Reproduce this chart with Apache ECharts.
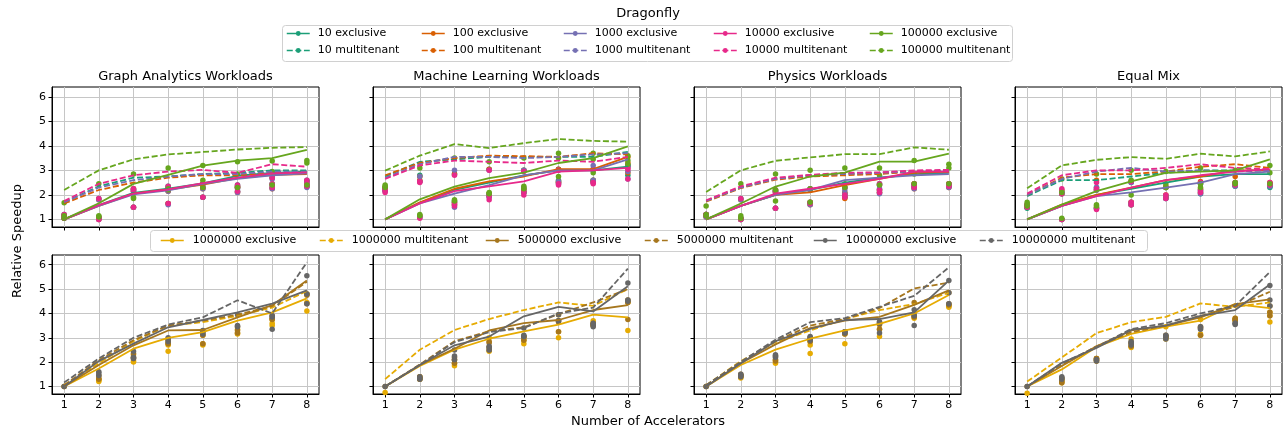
<!DOCTYPE html>
<html><head><meta charset="utf-8">
<script src="https://cdn.jsdelivr.net/npm/echarts@6/dist/echarts.min.js"></script>
<style>html,body{margin:0;padding:0;background:#fff}#c{width:1285px;height:432px}</style>
</head><body><div id="c"></div><script>
// ---------- categories / ticks ----------
const xValues = [1, 2, 3, 4, 5, 6, 7, 8];
const yTicks = [1, 2, 3, 4, 5, 6];
const panelTitles = ['Graph Analytics Workloads', 'Machine Learning Workloads', 'Physics Workloads', 'Equal Mix'];
const topSizes = ['10', '100', '1000', '10000', '100000'];
const bottomSizes = ['1000000', '5000000', '10000000'];
const sizeColors = {
  '10': '#1b9e77', '100': '#d95f02', '1000': '#7570b3', '10000': '#e7298a', '100000': '#66a61e',
  '1000000': '#e6ab02', '5000000': '#a6761d', '10000000': '#666666'
};

// ---------- Graph Analytics (top row) ----------
const graphTopExclusive = {
  '10':     [1, 1.58, 2.08, 2.25, 2.47, 2.78, 2.90, 2.95],
  '100':    [1, 1.55, 2.05, 2.22, 2.42, 2.68, 2.82, 2.85],
  '1000':   [1, 1.55, 2.02, 2.18, 2.45, 2.65, 2.80, 2.88],
  '10000':  [1, 1.58, 2.05, 2.22, 2.48, 2.70, 2.88, 2.92],
  '100000': [1, 1.66, 2.45, 2.82, 3.19, 3.40, 3.50, 3.84]
};
const graphTopMultitenant = {
  '10':     [1.70, 2.35, 2.70, 2.75, 2.85, 2.90, 3.00, 3.00],
  '100':    [1.65, 2.20, 2.50, 2.70, 2.80, 2.80, 2.90, 2.90],
  '1000':   [1.70, 2.30, 2.60, 2.75, 2.85, 2.85, 2.95, 2.95],
  '10000':  [1.75, 2.45, 2.80, 2.95, 3.02, 2.90, 3.25, 3.15],
  '100000': [2.20, 3.00, 3.45, 3.65, 3.75, 3.85, 3.92, 3.95]
};
const graphTopDots = {
  '10':     [[1.05,1.10,1.20],[1.05,1.10,1.85],[1.50,2.20,2.25],[1.65,2.20,2.35],[1.90,2.30,2.45],[2.15,2.30,2.40],[2.30,2.45,2.70],[2.35,2.45,2.60]],
  '100':    [[1.05,1.10,1.15],[1.00,1.10,1.80],[1.50,2.15,2.25],[1.65,2.15,2.30],[1.90,2.25,2.45],[2.10,2.30,2.35],[2.25,2.40,2.70],[2.35,2.40,2.55]],
  '1000':   [[1.05,1.10,1.15],[1.00,1.05,1.80],[1.50,2.15,2.20],[1.60,2.15,2.30],[1.90,2.25,2.40],[2.10,2.25,2.35],[2.25,2.40,2.65],[2.30,2.40,2.55]],
  '10000':  [[1.05,1.15,1.20],[1.00,1.05,1.85],[1.50,2.20,2.25],[1.65,2.20,2.35],[1.90,2.30,2.45],[2.15,2.30,2.40],[2.30,2.45,2.70],[2.35,2.45,2.60]],
  '100000': [[1.05,1.15,1.68],[1.10,1.15,2.45],[1.85,1.90,2.85],[2.20,2.25,3.10],[2.30,2.60,3.20],[2.30,2.85,3.35],[2.40,2.95,3.38],[2.40,3.30,3.40]]
};

// ---------- Machine Learning (top row) ----------
const mlTopExclusive = {
  '10':     [1, 1.68, 2.20, 2.50, 2.80, 3.00, 3.00, 3.15],
  '100':    [1, 1.70, 2.25, 2.55, 2.75, 3.05, 3.05, 3.55],
  '1000':   [1, 1.65, 2.05, 2.40, 2.80, 3.00, 3.00, 3.45],
  '10000':  [1, 1.65, 2.15, 2.35, 2.55, 2.95, 3.00, 3.10],
  '100000': [1, 1.82, 2.34, 2.68, 2.91, 3.30, 3.50, 3.98]
};
const mlTopMultitenant = {
  '10':     [2.75, 3.35, 3.45, 3.55, 3.55, 3.55, 3.55, 3.75],
  '100':    [2.80, 3.30, 3.50, 3.60, 3.58, 3.55, 3.70, 3.65],
  '1000':   [2.70, 3.25, 3.55, 3.55, 3.50, 3.55, 3.65, 3.70],
  '10000':  [2.65, 3.20, 3.40, 3.35, 3.30, 3.40, 3.35, 3.55],
  '100000': [2.99, 3.60, 4.07, 3.91, 4.11, 4.28, 4.20, 4.17]
};
const mlTopDots = {
  '10':     [[2.20,2.25,2.30],[1.10,2.55,2.80],[1.60,1.75,2.85],[1.95,2.05,3.05],[2.10,2.20,3.00],[2.50,2.60,3.05],[2.55,2.60,3.05],[2.80,3.15,3.20]],
  '100':    [[2.20,2.25,2.30],[1.15,2.60,2.75],[1.60,1.70,2.85],[1.95,2.05,3.05],[2.10,2.25,3.00],[2.50,2.55,3.05],[2.55,2.60,3.05],[2.90,3.30,3.55]],
  '1000':   [[2.15,2.20,2.25],[1.10,2.55,2.75],[1.50,1.70,3.00],[1.90,2.00,3.00],[2.10,2.30,3.00],[2.45,2.55,3.00],[2.50,2.60,3.20],[2.65,2.95,3.20]],
  '10000':  [[2.10,2.20,2.25],[1.05,2.50,2.55],[1.55,1.65,2.80],[1.80,1.95,3.00],[2.00,2.15,2.95],[2.40,2.45,3.00],[2.45,2.50,3.00],[2.65,3.05,3.10]],
  '100000': [[2.30,2.35,2.40],[1.15,1.20,3.10],[1.75,1.80,3.50],[2.05,2.10,3.35],[2.25,2.35,3.50],[2.75,3.50,3.70],[2.90,3.45,3.70],[3.25,3.40,3.60]]
};

// ---------- Physics (top row) ----------
const physTopExclusive = {
  '10':     [1, 1.55, 2.00, 2.20, 2.50, 2.70, 2.85, 2.90],
  '100':    [1, 1.55, 2.00, 2.10, 2.40, 2.65, 2.90, 2.95],
  '1000':   [1, 1.55, 2.00, 2.20, 2.60, 2.70, 2.80, 2.85],
  '10000':  [1, 1.55, 2.05, 2.25, 2.45, 2.65, 2.95, 2.95],
  '100000': [1, 1.65, 2.34, 2.75, 2.91, 3.36, 3.36, 3.68]
};
const physTopMultitenant = {
  '10':     [1.75, 2.30, 2.65, 2.80, 2.85, 2.90, 2.95, 3.00],
  '100':    [1.72, 2.28, 2.62, 2.75, 2.80, 2.85, 2.95, 2.95],
  '1000':   [1.75, 2.30, 2.65, 2.80, 2.85, 2.90, 2.95, 3.00],
  '10000':  [1.78, 2.35, 2.70, 2.82, 2.90, 2.92, 3.00, 3.02],
  '100000': [2.12, 3.00, 3.39, 3.53, 3.66, 3.66, 3.94, 3.84]
};
const physTopDots = {
  '10':     [[1.15,1.20,1.20],[1.00,1.05,1.85],[1.45,2.15,2.20],[1.65,1.70,2.25],[1.90,2.05,2.30],[2.10,2.20,2.45],[2.30,2.40,2.45],[2.35,2.40,2.45]],
  '100':    [[1.10,1.15,1.20],[1.00,1.05,1.80],[1.45,2.10,2.20],[1.60,1.70,2.20],[1.85,1.95,2.10],[2.10,2.20,2.40],[2.25,2.35,2.45],[2.30,2.40,2.45]],
  '1000':   [[1.10,1.15,1.20],[1.00,1.05,1.80],[1.45,2.10,2.15],[1.60,1.65,2.20],[1.95,2.05,2.20],[2.05,2.25,2.40],[2.25,2.35,2.40],[2.30,2.35,2.40]],
  '10000':  [[1.15,1.20,1.20],[1.00,1.05,1.85],[1.45,2.15,2.20],[1.65,1.70,2.25],[1.90,2.00,2.30],[2.10,2.20,2.45],[2.30,2.40,2.45],[2.35,2.40,2.45]],
  '100000': [[1.15,1.20,1.55],[1.05,1.15,2.45],[1.75,2.20,2.85],[1.70,2.25,3.00],[2.30,2.45,3.10],[2.40,2.80,3.10],[2.45,2.85,3.40],[2.45,3.10,3.25]]
};

// ---------- Equal Mix (top row) ----------
const mixTopExclusive = {
  '10':     [1, 1.55, 2.00, 2.25, 2.50, 2.75, 2.85, 2.85],
  '100':    [1, 1.60, 2.00, 2.30, 2.60, 2.75, 3.00, 3.00],
  '1000':   [1, 1.55, 1.95, 2.10, 2.30, 2.50, 2.85, 2.95],
  '10000':  [1, 1.55, 1.95, 2.30, 2.60, 2.80, 2.95, 3.05],
  '100000': [1, 1.60, 2.15, 2.55, 2.90, 2.95, 3.00, 3.45]
};
const mixTopMultitenant = {
  '10':     [1.95, 2.60, 2.60, 2.75, 2.90, 3.00, 3.00, 3.00],
  '100':    [2.00, 2.70, 2.85, 2.85, 2.95, 3.15, 3.25, 3.10],
  '1000':   [2.00, 2.65, 2.95, 3.10, 2.95, 3.00, 2.95, 3.00],
  '10000':  [2.05, 2.80, 3.00, 3.00, 3.10, 3.25, 3.10, 3.05],
  '100000': [2.27, 3.20, 3.43, 3.54, 3.47, 3.68, 3.57, 3.77]
};
const mixTopDots = {
  '10':     [[1.45,1.50,1.55],[1.00,2.05,2.15],[1.45,2.20,2.30],[1.60,1.70,2.50],[1.85,1.95,2.30],[2.05,2.20,2.45],[2.35,2.40,2.45],[2.30,2.35,2.40]],
  '100':    [[1.50,1.55,1.60],[1.00,2.05,2.20],[1.50,2.20,2.60],[1.60,1.70,2.55],[1.90,2.00,2.35],[2.10,2.25,2.55],[2.40,2.50,2.75],[2.40,2.45,2.50]],
  '1000':   [[1.50,1.55,1.60],[1.00,2.05,2.10],[1.45,2.20,2.30],[1.60,1.65,2.50],[1.85,1.95,2.30],[2.05,2.15,2.45],[2.35,2.40,2.50],[2.35,2.40,2.45]],
  '10000':  [[1.50,1.55,1.60],[1.00,2.05,2.25],[1.40,2.25,2.50],[1.60,1.70,2.55],[1.85,2.00,2.30],[2.10,2.20,2.50],[2.40,2.45,2.50],[2.40,2.45,2.50]],
  '100000': [[1.55,1.60,1.70],[1.05,2.10,2.65],[1.55,1.60,2.85],[2.00,2.60,3.00],[2.30,2.45,2.95],[2.30,2.45,3.10],[2.45,2.50,3.00],[2.45,2.90,3.20]]
};

// ---------- bottom row ----------
const graphBottomExclusive = {
  '1000000':  [1, 1.74, 2.55, 3.00, 3.23, 3.70, 4.04, 4.62],
  '5000000':  [1, 1.88, 2.69, 3.30, 3.32, 3.84, 4.34, 5.35],
  '10000000': [1, 2.04, 2.76, 3.43, 3.73, 4.04, 4.40, 4.95]
};
const graphBottomMultitenant = {
  '1000000':  [1.05, 1.95, 2.86, 3.50, 3.64, 3.90, 4.24, 4.92],
  '5000000':  [1.05, 2.08, 2.90, 3.50, 3.70, 3.95, 4.30, 5.30],
  '10000000': [1.16, 2.15, 3.00, 3.54, 3.84, 4.54, 4.00, 6.10]
};
const graphBottomDots = {
  '1000000':  [[1.00],[1.20,1.25,1.30],[2.00,2.05,2.30],[2.45,2.70,2.75],[2.70,2.75,3.10],[3.15,3.20,3.35],[3.50,3.60,3.75],[4.10,4.45,4.80]],
  '5000000':  [[1.00],[1.30,1.35,1.45],[2.15,2.20,2.35],[2.75,2.80,2.90],[2.75,3.10,3.20],[3.20,3.30,3.45],[3.75,3.80,3.90],[4.40,4.75,4.80]],
  '10000000': [[1.00],[1.45,1.55,1.60],[2.15,2.20,2.45],[2.85,2.95,3.00],[3.15,3.25,3.30],[3.45,3.50,3.95],[3.35,3.85,3.90],[4.40,4.80,5.55]]
};
const mlBottomExclusive = {
  '1000000':  [1, 1.84, 2.51, 2.96, 3.26, 3.54, 3.95, 3.84],
  '5000000':  [1, 1.88, 2.55, 3.30, 3.60, 3.73, 4.14, 4.34],
  '10000000': [1, 1.88, 2.69, 3.05, 3.88, 4.27, 4.08, 5.12]
};
const mlBottomMultitenant = {
  '1000000':  [1.30, 2.51, 3.32, 3.77, 4.14, 4.45, 4.31, 5.00],
  '5000000':  [1.00, 1.90, 2.86, 3.27, 3.43, 3.97, 4.45, 5.00],
  '10000000': [1.00, 1.88, 2.82, 3.23, 3.40, 4.00, 4.24, 5.84]
};
const mlBottomDots = {
  '1000000':  [[0.75],[1.30,1.35,1.40],[1.85,1.95,2.10],[2.45,2.60,3.00],[2.75,2.90,3.05],[3.00,3.25,3.95],[3.50,3.60,3.70],[3.30,4.45,4.50]],
  '5000000':  [[1.00],[1.30,1.35,1.40],[1.95,2.10,2.20],[2.50,2.80,2.85],[2.90,3.00,3.05],[3.25,3.65,3.70],[3.50,3.55,3.60],[3.75,4.45,4.55]],
  '10000000': [[1.00],[1.30,1.35,1.40],[2.10,2.25,2.50],[2.50,2.60,2.65],[3.05,3.10,3.40],[3.70,3.70,3.95],[3.45,3.55,3.60],[4.50,4.55,5.25]]
};
const physBottomExclusive = {
  '1000000':  [1, 1.88, 2.51, 2.96, 3.30, 3.57, 4.00, 4.76],
  '5000000':  [1, 1.95, 2.73, 3.40, 3.70, 3.86, 4.35, 4.95],
  '10000000': [1, 1.95, 2.86, 3.36, 3.73, 3.77, 4.04, 5.35]
};
const physBottomMultitenant = {
  '1000000':  [1.05, 2.04, 2.82, 3.30, 3.77, 4.14, 4.38, 4.85],
  '5000000':  [1.05, 2.00, 2.86, 3.50, 3.77, 4.22, 5.03, 5.26],
  '10000000': [1.05, 2.01, 2.92, 3.64, 3.81, 4.27, 4.72, 5.89]
};
const physBottomDots = {
  '1000000':  [[1.00],[1.35,1.40,1.45],[1.95,2.00,2.10],[2.35,2.70,2.85],[2.75,3.15,3.20],[3.05,3.35,3.55],[3.80,3.85,4.00],[4.25,4.30,4.35]],
  '5000000':  [[1.00],[1.40,1.45,1.50],[2.05,2.10,2.25],[2.85,2.95,3.00],[3.15,3.20,3.25],[3.35,3.55,3.65],[3.85,3.90,4.45],[4.35,4.40,4.85]],
  '10000000': [[1.00],[1.40,1.45,1.50],[2.20,2.25,2.30],[2.90,3.00,3.05],[3.20,3.25,3.25],[3.20,3.60,3.65],[3.50,3.90,4.15],[4.40,4.85,5.35]]
};
const mixBottomExclusive = {
  '1000000':  [1, 1.70, 2.62, 3.16, 3.46, 3.70, 4.38, 4.22],
  '5000000':  [1, 1.84, 2.65, 3.30, 3.50, 3.84, 4.38, 4.58],
  '10000000': [1, 1.97, 2.58, 3.32, 3.50, 3.90, 4.14, 5.19]
};
const mixBottomMultitenant = {
  '1000000':  [1.20, 2.19, 3.19, 3.64, 3.86, 4.41, 4.27, 4.45],
  '5000000':  [1.00, 1.88, 2.65, 3.23, 3.50, 3.90, 4.27, 4.89],
  '10000000': [1.00, 1.95, 2.62, 3.36, 3.60, 4.00, 4.31, 5.70]
};
const mixBottomDots = {
  '1000000':  [[0.72],[1.15,1.25,1.30],[2.05,2.10,2.15],[2.60,2.65,2.95],[2.95,3.05,3.45],[3.10,3.15,3.75],[3.70,3.75,3.80],[3.65,3.90,4.05]],
  '5000000':  [[1.00],[1.15,1.20,1.35],[2.05,2.15,2.15],[2.65,2.75,2.80],[3.00,3.05,3.10],[3.10,3.40,3.45],[3.70,3.75,3.80],[3.90,4.05,4.30]],
  '10000000': [[1.00],[1.30,1.35,1.40],[2.05,2.10,2.10],[2.70,2.80,2.85],[2.95,3.05,3.10],[3.35,3.40,3.45],[3.55,3.60,3.60],[4.30,4.55,5.15]]
};

// ---------- assemble ----------
const panels = [
  { topEx: graphTopExclusive, topMt: graphTopMultitenant, topDots: graphTopDots, botEx: graphBottomExclusive, botMt: graphBottomMultitenant, botDots: graphBottomDots },
  { topEx: mlTopExclusive, topMt: mlTopMultitenant, topDots: mlTopDots, botEx: mlBottomExclusive, botMt: mlBottomMultitenant, botDots: mlBottomDots },
  { topEx: physTopExclusive, topMt: physTopMultitenant, topDots: physTopDots, botEx: physBottomExclusive, botMt: physBottomMultitenant, botDots: physBottomDots },
  { topEx: mixTopExclusive, topMt: mixTopMultitenant, topDots: mixTopDots, botEx: mixBottomExclusive, botMt: mixBottomMultitenant, botDots: mixBottomDots }
];

const FONT = 'DejaVu Sans';
const gridLeft = [52, 373, 694, 1015];
const gridW = 267;
const rowTop = [87, 255];
const rowH = [140, 139];
const grids = [], xAxes = [], yAxes = [], series = [];

function intLabel(v) { return Math.abs(v - Math.round(v)) < 1e-6 ? String(Math.round(v)) : ''; }

for (let r = 0; r < 2; r++) {
  for (let p = 0; p < 4; p++) {
    const gi = r * 4 + p;
    grids.push({ left: gridLeft[p], top: rowTop[r], width: gridW, height: rowH[r], show: true, borderColor: '#000', borderWidth: 1, backgroundColor: 'transparent' });
    xAxes.push({
      type: 'value', gridIndex: gi, min: 0.65, max: 8.35, splitNumber: 8,
      axisLine: { show: true, onZero: false, lineStyle: { color: '#000', width: 1 } },
      axisTick: { show: true, length: 3.5, customValues: xValues, lineStyle: { color: '#000', width: 1 } },
      axisLabel: { show: r === 1, customValues: xValues, formatter: intLabel, margin: 6, color: '#000', fontFamily: FONT, fontSize: 11 },
      splitLine: { show: true, lineStyle: { color: '#c6c6c6', width: 1 } }
    });
    yAxes.push({
      type: 'value', gridIndex: gi, min: 0.69, max: 6.4, splitNumber: 6,
      axisLine: { show: true, onZero: false, lineStyle: { color: '#000', width: 1 } },
      axisTick: { show: true, length: 3.5, customValues: yTicks, lineStyle: { color: '#000', width: 1 } },
      axisLabel: { show: p === 0, customValues: yTicks, formatter: intLabel, margin: 6, color: '#000', fontFamily: FONT, fontSize: 11 },
      splitLine: { show: true, lineStyle: { color: '#c6c6c6', width: 1 } }
    });
    const pan = panels[p];
    const sizes = r === 0 ? topSizes : bottomSizes;
    const ex = r === 0 ? pan.topEx : pan.botEx;
    const mt = r === 0 ? pan.topMt : pan.botMt;
    const dots = r === 0 ? pan.topDots : pan.botDots;
    sizes.forEach(s => {
      const c = sizeColors[s];
      series.push({
        type: 'line', name: s + ' exclusive', xAxisIndex: gi, yAxisIndex: gi,
        data: xValues.map((x, i) => [x, ex[s][i]]), symbol: 'circle', symbolSize: 5, showSymbol: false,
        lineStyle: { color: c, width: 1.8 }, itemStyle: { color: c }, silent: true
      });
      series.push({
        type: 'line', name: s + ' multitenant', xAxisIndex: gi, yAxisIndex: gi,
        data: xValues.map((x, i) => [x, mt[s][i]]), symbol: 'circle', symbolSize: 5, showSymbol: false,
        lineStyle: { color: c, width: 1.8, type: [6, 2.6] }, itemStyle: { color: c }, silent: true
      });
      const pts = [];
      dots[s].forEach((vals, i) => vals.forEach(v => pts.push([xValues[i], v])));
      series.push({
        type: 'scatter', name: s + ' points', xAxisIndex: gi, yAxisIndex: gi,
        data: pts, symbol: 'circle', symbolSize: 5.5, itemStyle: { color: c, opacity: 1 }, silent: true
      });
    });
  }
}

// ---------- legends ----------
const topLegendLeft = [286, 421, 563, 713, 869];
const bottomLegendLeft = [160, 319, 485, 644, 813, 979];
const legendText = { fontFamily: FONT, fontSize: 11, color: '#000', padding: [0, 0, 0, 3] };
const legends = [];
topSizes.forEach((s, i) => {
  legends.push({
    orient: 'vertical', left: topLegendLeft[i], top: 28, padding: 0, itemGap: 6, z: 10,
    itemWidth: 23, itemHeight: 6, selectedMode: false,
    lineStyle: { width: 1.5 },
    data: [s + ' exclusive', s + ' multitenant'], textStyle: legendText
  });
});
bottomSizes.forEach((s, i) => {
  [' exclusive', ' multitenant'].forEach((m, j) => {
    legends.push({
      orient: 'horizontal', left: bottomLegendLeft[i * 2 + j], top: 235, padding: 0, z: 10,
      itemWidth: 23, itemHeight: 6, selectedMode: false,
      lineStyle: { width: 1.5 },
      data: [s + m], textStyle: Object.assign({}, legendText, { padding: [0, 0, 0, 4] })
    });
  });
});

const panelCenters = gridLeft.map(l => l + gridW / 2);
const txt = (text, x, y, size, rot) => ({
  type: 'text', x: x, y: y, rotation: rot || 0, z: 10,
  style: { text: text, font: size + 'px "' + FONT + '"', fill: '#000', textAlign: 'center', textVerticalAlign: 'middle', align: 'center', verticalAlign: 'middle' }
});
const graphics = [
  { type: 'rect', shape: { x: 282.5, y: 25.5, width: 730, height: 36, r: 3 }, style: { fill: 'rgba(255,255,255,0.8)', stroke: '#d0d0d0', lineWidth: 1 }, z: 3 },
  { type: 'rect', shape: { x: 150.5, y: 230.5, width: 997, height: 21, r: 3 }, style: { fill: 'rgba(255,255,255,0.85)', stroke: '#d0d0d0', lineWidth: 1 }, z: 3 },
  txt('Dragonfly', 648, 14, 13),
  txt('Relative Speedup', 18, 241, 13, Math.PI / 2),
  txt('Number of Accelerators', 648, 422, 13)
].concat(panelTitles.map((t, i) => txt(t, panelCenters[i], 77, 13)));

const chart = echarts.init(document.getElementById('c'), null, { renderer: 'canvas' });
chart.setOption({
  animation: false,
  backgroundColor: '#fff',
  textStyle: { fontFamily: FONT },
  grid: grids, xAxis: xAxes, yAxis: yAxes, series: series,
  legend: legends, graphic: graphics
});
</script></body></html>
